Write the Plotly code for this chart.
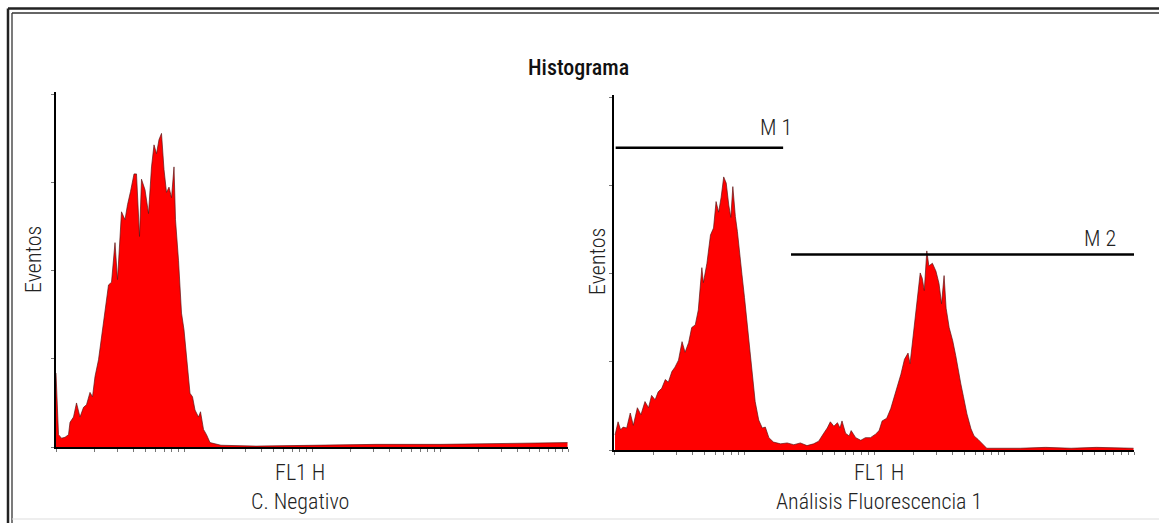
import math
import plotly.graph_objects as go

# ---------------- data ----------------
# channels (0-1023, 256 channels per decade) and event counts
neg_channel = [0, 5, 11, 18, 25, 28, 35, 41, 48, 55, 61, 68, 73, 78, 85, 91, 98, 105, 111, 118,
               123, 131, 138, 143, 149, 156, 161, 167, 171, 178, 185, 191, 196, 201, 206, 211,
               216, 221, 226, 231, 236, 239, 245, 251, 256, 261, 268, 273, 278, 285, 289, 295,
               301, 308, 330, 400, 512, 640, 768, 900, 1023]
neg_counts = [84, 14, 10, 11, 14, 28, 34, 50, 34, 45, 48, 62, 57, 80, 99, 124, 152, 184, 187, 232,
              190, 267, 258, 275, 290, 310, 310, 239, 304, 292, 265, 318, 343, 333, 349, 356,
              315, 289, 295, 283, 318, 258, 212, 152, 133, 99, 61, 57, 42, 34, 40, 20,
              14, 5, 2, 1, 2, 3, 3, 4, 5]

fl1_channel = [2, 8, 13, 18, 25, 32, 38, 46, 53, 61, 68, 74, 81, 87, 94, 101, 107, 114, 120, 127,
               134, 140, 147, 153, 160, 166, 173, 176, 183, 190, 196, 201, 206, 211, 216, 221,
               226, 230, 234, 239, 243, 247, 252, 257, 262, 268, 274, 278, 285, 292, 298, 305, 314,
               328, 341, 354, 367, 380, 393, 403, 413, 420, 426, 433, 440, 445, 449, 456, 463,
               467, 476, 486, 495, 505, 515, 522, 528, 537, 545, 551, 558, 565, 572, 579, 583,
               588, 592, 598, 603, 607, 611, 616, 620, 627, 634, 640, 645, 650, 654, 660, 667,
               673, 677, 683, 688, 695, 703, 709, 717, 726, 734, 760, 800, 850, 900, 950, 1000, 1023]
fl1_counts = [17, 32, 23, 26, 25, 42, 28, 48, 40, 55, 48, 62, 57, 66, 70, 80, 77, 89, 94, 102,
              123, 111, 122, 139, 142, 159, 207, 190, 212, 244, 252, 282, 270, 287, 310, 303,
              278, 264, 299, 265, 248, 229, 199, 173, 145, 116, 77, 55, 34, 25, 26, 14, 9,
              7, 8, 6, 8, 5, 7, 10, 19, 25, 32, 27, 31, 25, 33, 19, 16,
              22, 14, 11, 14, 14, 18, 22, 33, 36, 47, 59, 70, 86, 103, 110, 98,
              124, 143, 172, 201, 195, 181, 226, 209, 212, 203, 189, 166, 198, 161, 139, 124,
              107, 93, 75, 61, 41, 24, 16, 12, 7, 2, 2, 2, 3, 2, 3, 2, 2]

# marker gates (FL1 intensity range, display height in counts)
gate_names = ["M 1", "M 2"]
gate_lo = [1.03, 23]
gate_hi = [20, 10000]
gate_y = [343, 222]
gate_label_x = [17.5, 5500]
gate_label_y = [366, 240]

x_labels = ["FL1 H<br>C. Negativo", "FL1 H<br>Análisis Fluorescencia 1"]
y_label = "Eventos"
title_text = "Histograma"

# ---------------- figure ----------------
W, H = 1159, 523
def PX(x):
    return x / W
def PY(y):
    return 1 - y / H

neg_fl = [10 ** (c / 256) for c in neg_channel]
fl1_fl = [10 ** (c / 256) for c in fl1_channel]

FONT = "Roboto Condensed, Noto Sans Condensed, Liberation Sans Narrow, DejaVu Sans Condensed, sans-serif"
RED = "#ff0000"
OUT = "rgba(90,20,20,0.85)"

fig = go.Figure()
fig.add_trace(go.Scatter(x=neg_fl, y=neg_counts, mode="lines", fill="tozeroy",
                         fillcolor=RED, line=dict(color=OUT, width=0.8),
                         xaxis="x", yaxis="y", hoverinfo="skip", showlegend=False))
fig.add_trace(go.Scatter(x=fl1_fl, y=fl1_counts, mode="lines", fill="tozeroy",
                         fillcolor=RED, line=dict(color=OUT, width=0.8),
                         xaxis="x2", yaxis="y2", hoverinfo="skip", showlegend=False))

for i in range(len(gate_names)):
    fig.add_trace(go.Scatter(x=[gate_lo[i], gate_hi[i]], y=[gate_y[i], gate_y[i]],
                             mode="lines", line=dict(color="black", width=2.5),
                             xaxis="x2", yaxis="y2", hoverinfo="skip", showlegend=False,
                             cliponaxis=False))

minor_vals = [k * 10 ** d for d in range(4) for k in range(1, 10)] + [10 ** 4]

def xax(domain):
    return dict(domain=domain, type="log", range=[0, 4], showline=True, linecolor="black",
                linewidth=1.5, ticks="outside", ticklen=3, tickcolor="#777", tickwidth=1,
                tickvals=minor_vals, showticklabels=False, showgrid=False, zeroline=False,
                fixedrange=True)

def yax(domain, anchor):
    return dict(domain=domain, range=[0, 403], showline=True, linecolor="black",
                linewidth=1.5, ticks="outside", ticklen=3, tickcolor="#777", tickwidth=1,
                tickvals=[0, 100, 200, 300, 400], showticklabels=False, showgrid=False,
                zeroline=False, anchor=anchor, fixedrange=True)

fig.update_layout(
    width=W, height=H, margin=dict(l=0, r=0, t=0, b=0),
    paper_bgcolor="white", plot_bgcolor="white",
    font=dict(family=FONT, color="#222", size=22, weight=300),
    xaxis=dict(xax([PX(56), PX(568)]), anchor="y"),
    yaxis=yax([PY(447), PY(92)], "x"),
    xaxis2=dict(xax([PX(614), PX(1134)]), anchor="y2"),
    yaxis2=yax([PY(450), PY(95)], "x2"),
)

ann = []
ann.append(dict(text=title_text, x=PX(578), y=PY(68), xref="paper", yref="paper",
                showarrow=False, font=dict(size=22, color="#111", weight=500),
                xanchor="center", yanchor="middle"))
ann.append(dict(text=y_label, x=PX(33), y=PY(260), xref="paper", yref="paper", textangle=-90,
                showarrow=False, xanchor="center", yanchor="middle"))
ann.append(dict(text=y_label, x=PX(597), y=PY(262), xref="paper", yref="paper", textangle=-90,
                showarrow=False, xanchor="center", yanchor="middle"))
ann.append(dict(text=x_labels[0], x=PX(300), y=PY(487), xref="paper", yref="paper",
                showarrow=False, xanchor="center", yanchor="middle", align="center"))
ann.append(dict(text=x_labels[1], x=PX(879), y=PY(487), xref="paper", yref="paper",
                showarrow=False, xanchor="center", yanchor="middle", align="center"))
for i in range(len(gate_names)):
    # annotations on a log axis take log10 positions
    ann.append(dict(text=gate_names[i], x=math.log10(gate_label_x[i]), y=gate_label_y[i],
                    xref="x2", yref="y2", showarrow=False, xanchor="center", yanchor="middle"))
fig.update_layout(annotations=ann)

# double frame
shapes = [
    dict(type="line", xref="paper", yref="paper", x0=PX(8), y0=PY(523), x1=PX(8), y1=PY(8.5),
         line=dict(color="#222", width=2.5)),
    dict(type="line", xref="paper", yref="paper", x0=PX(8), y0=PY(8.5), x1=1, y1=PY(8.5),
         line=dict(color="#222", width=2.5)),
    dict(type="line", xref="paper", yref="paper", x0=PX(12), y0=PY(523), x1=PX(12), y1=PY(13),
         line=dict(color="#333", width=1.3)),
    dict(type="line", xref="paper", yref="paper", x0=PX(12), y0=PY(13), x1=1, y1=PY(13),
         line=dict(color="#333", width=1.3)),
    dict(type="line", xref="paper", yref="paper", x0=PX(12), y0=PY(519), x1=1, y1=PY(519),
         line=dict(color="#ddd", width=1)),
]
fig.update_layout(shapes=shapes)

fig.write_html("out.html")
